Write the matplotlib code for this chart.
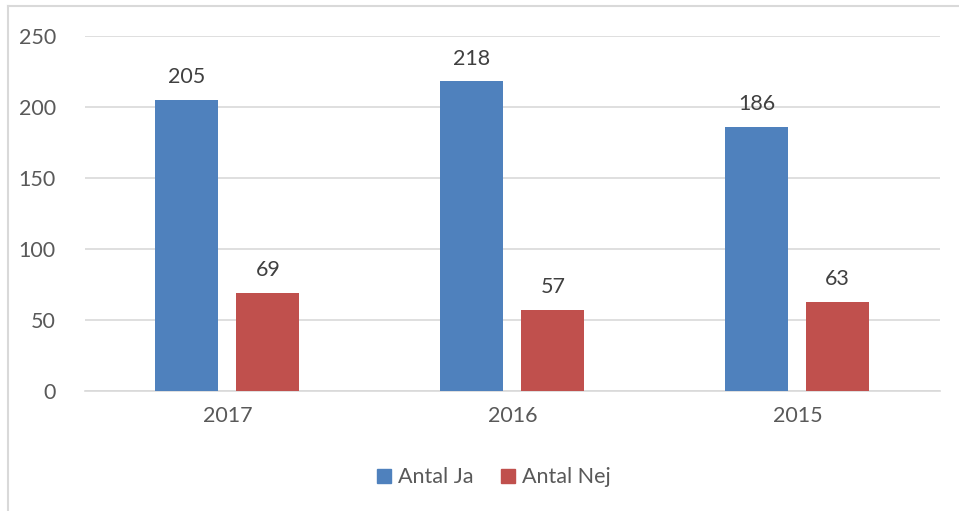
import numpy as np
import matplotlib.pyplot as plt
from matplotlib.lines import Line2D

plt.rcParams['font.family'] = ['Lato', 'DejaVu Sans']

aar = ['2017', '2016', '2015']
antal_ja = [205, 218, 186]
antal_nej = [69, 57, 63]

graa = '#595959'
bla = '#4F81BD'
rod = '#C0504D'

fig = plt.figure(figsize=(9.59, 5.11), dpi=100)
ax = fig.add_axes([0.0886, 0.2348, 0.8914, 0.6947])

x = np.arange(len(aar))
b = 0.221
s1 = ax.bar(x - 0.142, antal_ja, b, color=bla, zorder=3)
s2 = ax.bar(x + 0.142, antal_nej, b, color=rod, zorder=3)

for rects, vals in [(s1, antal_ja), (s2, antal_nej)]:
    for r, v in zip(rects, vals):
        ax.text(r.get_x() + r.get_width() / 2, v + 9, str(v), ha='center', va='bottom',
                fontsize=15.5, color='#404040')

ax.set_xlim(-0.5, 2.5)
ax.set_ylim(0, 250)
ax.set_yticks([0, 50, 100, 150, 200, 250])
ax.set_xticks(x)
ax.set_xticklabels(aar)
ax.grid(axis='y', color='#d9d9d9', linewidth=1.2, zorder=0)
for sp in ['top', 'right', 'left']:
    ax.spines[sp].set_visible(False)
ax.spines['bottom'].set_color('#d9d9d9')
ax.spines['bottom'].set_linewidth(1.2)
ax.tick_params(length=0, labelsize=15.5, colors=graa)
ax.tick_params(axis='y', pad=21)
ax.tick_params(axis='x', pad=11)

handles = [Line2D([], [], marker='s', linestyle='', markersize=10.5, color=bla),
           Line2D([], [], marker='s', linestyle='', markersize=10.5, color=rod)]
fig.legend(handles, ['Antal Ja', 'Antal Nej'], loc='center', bbox_to_anchor=(0.513, 0.066),
           ncol=2, frameon=False, fontsize=15.5, labelcolor=graa, handletextpad=0.15,
           columnspacing=1.1, handlelength=1.0)

# ramme (kun venstre og top synlig)
fig.add_artist(Line2D([0.0083, 0.0083], [0, 0.988], color='#d9d9d9', linewidth=1.5,
                      transform=fig.transFigure))
fig.add_artist(Line2D([0.0083, 1], [0.988, 0.988], color='#d9d9d9', linewidth=1.5,
                      transform=fig.transFigure))

fig.savefig('out.png', dpi=100)
